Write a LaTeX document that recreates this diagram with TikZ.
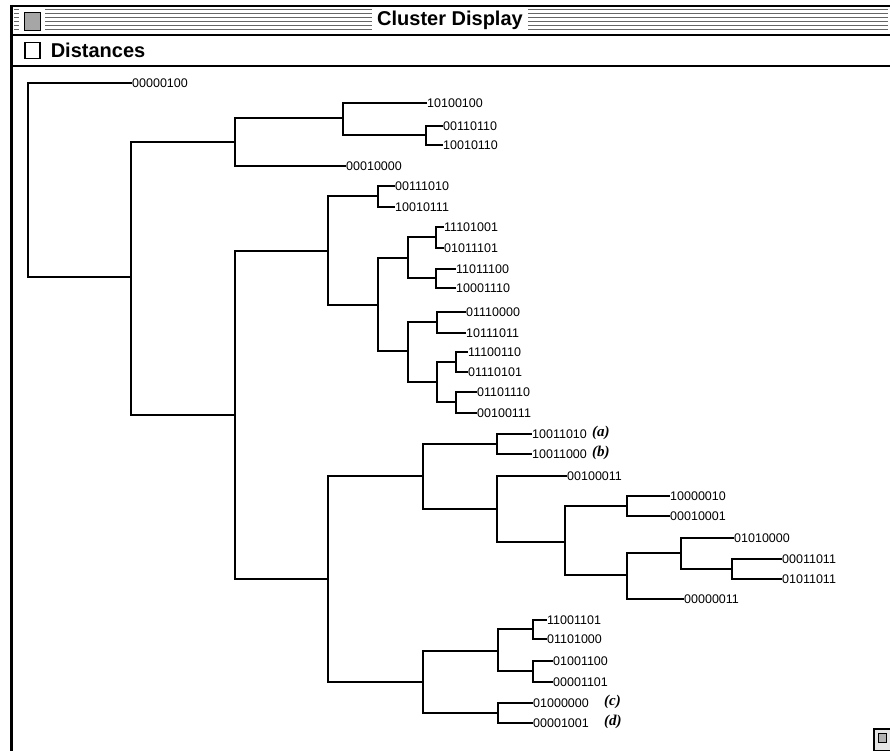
\documentclass[tikz,border=0pt]{standalone}
\usepackage{fontspec}
\usepackage{tikz}
\usetikzlibrary{positioning,calc}
\newfontfamily\leaffont{Liberation Sans}
\newfontfamily\chicago{Liberation Sans}
\newfontfamily\markfont{Liberation Serif}

\begin{document}
\begin{tikzpicture}[
        x=1pt, y=-1pt,
        branch/.style={draw, line width=2pt},
        leaf/.style={anchor=west, inner sep=0pt, xshift=1pt, font=\leaffont\fontsize{12.5}{12.5}\selectfont},
        tag/.style={anchor=west, inner sep=0pt, font=\markfont\bfseries\itshape\fontsize{15}{15}\selectfont},
        stripe/.style={draw=black!60, line width=1pt},
        frame/.style={draw, line width=2pt},
        barfont/.style={font=\chicago\bfseries\fontsize{20}{20}\selectfont}
    ]
    \useasboundingbox (0,0) rectangle (890,751);
    \fill[white] (0,0) rectangle (890,751);

    % window title bar
    \foreach \y in {10,14,...,30}
        \path [stripe] (14,\y) -- (888,\y);
    \node [fill=white, inner xsep=5pt, inner ysep=4pt, barfont] (title) at (450,20) {Cluster Display};
    \fill [white] (19,8) rectangle (45,33);
    \node [draw, line width=1pt, fill=black!35, minimum width=16pt, minimum height=18pt, inner sep=0pt] (closebox) at (32,22) {};
    \path [frame] (10,6) -- (890,6);
    \path [frame] (10,35) -- (890,35);

    % distances bar
    \node [draw, line width=1.2pt, fill=white, minimum width=15pt, minimum height=16pt, inner sep=0pt] (check) at (32.5,50.5) {};
    \node [right=10pt of check, inner sep=0pt, barfont] (dist) {Distances};
    \path [frame] (10,66) -- (890,66);
    \path [draw, line width=3pt] (11,5) -- (11,751);

    % grow box
    \node [draw, line width=1.2pt, fill=black!10, minimum width=18pt, minimum height=22pt, inner sep=0pt] (grow) at (883,740) {};
    \draw [line width=1pt, fill=black!30] (878,733) rectangle (886,742);

    % leaves
    \node [leaf] (b00000100) at (131,83) {00000100};
    \node [leaf] (b10100100) at (426,103) {10100100};
    \node [leaf] (b00110110) at (442,126) {00110110};
    \node [leaf] (b10010110) at (442,145) {10010110};
    \node [leaf] (b00010000) at (345,166) {00010000};
    \node [leaf] (b00111010) at (394,186) {00111010};
    \node [leaf] (b10010111) at (394,207) {10010111};
    \node [leaf] (b11101001) at (443,227) {11101001};
    \node [leaf] (b01011101) at (443,248) {01011101};
    \node [leaf] (b11011100) at (455,269) {11011100};
    \node [leaf] (b10001110) at (455,288) {10001110};
    \node [leaf] (b01110000) at (465,312) {01110000};
    \node [leaf] (b10111011) at (465,333) {10111011};
    \node [leaf] (b11100110) at (467,352) {11100110};
    \node [leaf] (b01110101) at (467,372) {01110101};
    \node [leaf] (b01101110) at (476,392) {01101110};
    \node [leaf] (b00100111) at (476,413) {00100111};
    \node [leaf] (b10011010) at (531,434) {10011010};
    \node [leaf] (b10011000) at (531,454) {10011000};
    \node [leaf] (b00100011) at (566,476) {00100011};
    \node [leaf] (b10000010) at (669,496) {10000010};
    \node [leaf] (b00010001) at (669,516) {00010001};
    \node [leaf] (b01010000) at (733,538) {01010000};
    \node [leaf] (b00011011) at (781,559) {00011011};
    \node [leaf] (b01011011) at (781,579) {01011011};
    \node [leaf] (b00000011) at (683,599) {00000011};
    \node [leaf] (b11001101) at (546,620) {11001101};
    \node [leaf] (b01101000) at (546,639) {01101000};
    \node [leaf] (b01001100) at (552,661) {01001100};
    \node [leaf] (b00001101) at (552,682) {00001101};
    \node [leaf] (b01000000) at (532,703) {01000000};
    \node [leaf] (b00001001) at (532,723) {00001001};

    \node [tag] (ta) at (592,433) {(a)};
    \node [tag] (tb) at (592,453) {(b)};
    \node [tag] (tc) at (604,702) {(c)};
    \node [tag] (td) at (604,722) {(d)};

    % joins
    \coordinate (k0) at (28,180);
    \coordinate (k1) at (131,277);
    \coordinate (k2) at (235,142);
    \coordinate (k3) at (343,118);
    \coordinate (k4) at (426,135);
    \coordinate (k7) at (235,415);
    \coordinate (k8) at (328,251);
    \coordinate (k9) at (378,196);
    \coordinate (k10) at (378,305);
    \coordinate (k11) at (408,258);
    \coordinate (k12) at (436,237);
    \coordinate (k13) at (436,278);
    \coordinate (k14) at (408,351);
    \coordinate (k15) at (437,322);
    \coordinate (k16) at (437,382);
    \coordinate (k17) at (456,362);
    \coordinate (k18) at (456,402);
    \coordinate (k20) at (328,579);
    \coordinate (k21) at (423,476);
    \coordinate (k22) at (497,444);
    \coordinate (k23) at (497,509);
    \coordinate (k24) at (565,542);
    \coordinate (k25) at (627,506);
    \coordinate (k26) at (627,575);
    \coordinate (k27) at (681,553);
    \coordinate (k28) at (732,569);
    \coordinate (k30) at (423,682);
    \coordinate (k31) at (498,651);
    \coordinate (k32) at (533,629);
    \coordinate (k33) at (533,671);
    \coordinate (k34) at (498,713);

    \path [branch] (k0) |- (b00000100.west) (k0) |- (k1);
    \path [branch] (k1) |- (k2) (k1) |- (k7);
    \path [branch] (k2) |- (k3) (k2) |- (b00010000.west);
    \path [branch] (k3) |- (b10100100.west) (k3) |- (k4);
    \path [branch] (k4) |- (b00110110.west) (k4) |- (b10010110.west);
    \path [branch] (k7) |- (k8) (k7) |- (k20);
    \path [branch] (k8) |- (k9) (k8) |- (k10);
    \path [branch] (k9) |- (b00111010.west) (k9) |- (b10010111.west);
    \path [branch] (k10) |- (k11) (k10) |- (k14);
    \path [branch] (k11) |- (k12) (k11) |- (k13);
    \path [branch] (k12) |- (b11101001.west) (k12) |- (b01011101.west);
    \path [branch] (k13) |- (b11011100.west) (k13) |- (b10001110.west);
    \path [branch] (k14) |- (k15) (k14) |- (k16);
    \path [branch] (k15) |- (b01110000.west) (k15) |- (b10111011.west);
    \path [branch] (k16) |- (k17) (k16) |- (k18);
    \path [branch] (k17) |- (b11100110.west) (k17) |- (b01110101.west);
    \path [branch] (k18) |- (b01101110.west) (k18) |- (b00100111.west);
    \path [branch] (k20) |- (k21) (k20) |- (k30);
    \path [branch] (k21) |- (k22) (k21) |- (k23);
    \path [branch] (k22) |- (b10011010.west) (k22) |- (b10011000.west);
    \path [branch] (k23) |- (b00100011.west) (k23) |- (k24);
    \path [branch] (k24) |- (k25) (k24) |- (k26);
    \path [branch] (k25) |- (b10000010.west) (k25) |- (b00010001.west);
    \path [branch] (k26) |- (k27) (k26) |- (b00000011.west);
    \path [branch] (k27) |- (b01010000.west) (k27) |- (k28);
    \path [branch] (k28) |- (b00011011.west) (k28) |- (b01011011.west);
    \path [branch] (k30) |- (k31) (k30) |- (k34);
    \path [branch] (k31) |- (k32) (k31) |- (k33);
    \path [branch] (k32) |- (b11001101.west) (k32) |- (b01101000.west);
    \path [branch] (k33) |- (b01001100.west) (k33) |- (b00001101.west);
    \path [branch] (k34) |- (b01000000.west) (k34) |- (b00001001.west);

\end{tikzpicture}
\end{document}
